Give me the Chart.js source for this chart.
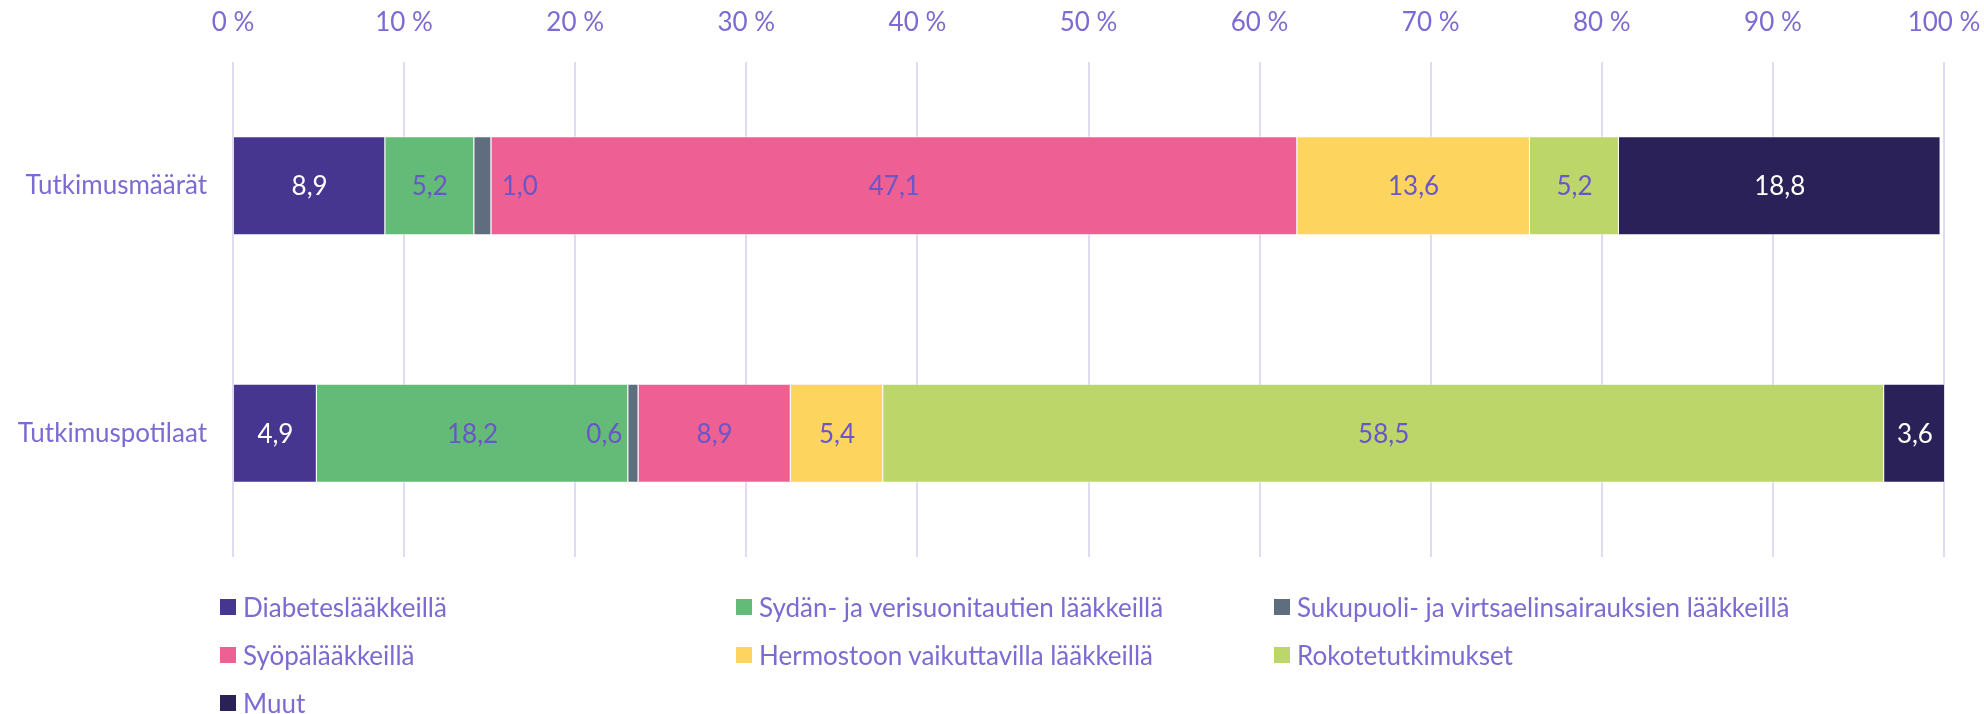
<!DOCTYPE html>
<html>
<head>
<meta charset="utf-8">
<script src="https://cdn.jsdelivr.net/npm/chart.js@4.4.1/dist/chart.umd.min.js"></script>
<style>
  body { margin: 0; background: #fff; }
  #wrap { position: relative; width: 1984px; height: 714px; }
  .lg { position: absolute; display: flex; align-items: center; height: 30px;
        font-family: Lato, sans-serif; font-size: 26px; color: #7b6bd2; white-space: nowrap; }
  .lg span.box { display: inline-block; width: 16px; height: 16px; margin-right: 7px; }
</style>
</head>
<body>
<div id="wrap">
  <canvas id="chart" width="1984" height="714"></canvas>
</div>
<script>
var categories = ['Tutkimusmäärät', 'Tutkimuspotilaat'];

var diabetes  = [8.9, 4.9];
var sydan     = [5.2, 18.2];
var sukupuoli = [1.0, 0.6];
var syopa     = [47.1, 8.9];
var hermosto  = [13.6, 5.4];
var rokote    = [5.2, 58.5];
var muut      = [18.8, 3.6];

var seriesNames = [
  'Diabeteslääkkeillä',
  'Sydän- ja verisuonitautien lääkkeillä',
  'Sukupuoli- ja virtsaelinsairauksien lääkkeillä',
  'Syöpälääkkeillä',
  'Hermostoon vaikuttavilla lääkkeillä',
  'Rokotetutkimukset',
  'Muut'
];
var seriesValues = [diabetes, sydan, sukupuoli, syopa, hermosto, rokote, muut];

var barColors   = ['#47368f', '#63bb77', '#5e6e7e', '#ee6093', '#fdd55e', '#bdd66a', '#2a2158'];
var labelColors = ['#ffffff', '#6a55c9', '#6a55c9', '#6a55c9', '#6a55c9', '#6a55c9', '#ffffff'];

var textColor = '#7b6bd2';
var fontFamily = 'Lato, sans-serif';

// hand-placed labels for the thin segments (dataset index -> [dx per category])
var labelNudge = { 2: [37, -29] };

var segmentLabels = {
  id: 'segmentLabels',
  afterDatasetsDraw: function(chart) {
    var ctx = chart.ctx;
    ctx.save();
    ctx.font = '26px ' + fontFamily;
    ctx.textAlign = 'center';
    ctx.textBaseline = 'middle';
    chart.data.datasets.forEach(function(ds, i) {
      var meta = chart.getDatasetMeta(i);
      meta.data.forEach(function(bar, j) {
        var v = ds.data[j];
        var x = (bar.x + bar.base) / 2;
        if (labelNudge[i]) x += labelNudge[i][j];
        ctx.fillStyle = labelColors[i];
        ctx.fillText(v.toFixed(1).replace('.', ','), x, bar.y + 1);
      });
    });
    ctx.restore();
  }
};

var datasets = seriesNames.map(function(name, i) {
  return {
    label: name,
    data: seriesValues[i],
    backgroundColor: barColors[i],
    borderColor: 'rgba(255,255,255,0.55)',
    borderWidth: 1,
    categoryPercentage: 0.4,
    barPercentage: 1.0
  };
});

var ctx = document.getElementById('chart');
var myChart = new Chart(ctx, {
  type: 'bar',
  data: { labels: categories, datasets: datasets },
  options: {
    indexAxis: 'y',
    responsive: false,
    animation: false,
    layout: { padding: { left: 0, right: 40, top: 0, bottom: 157 } },
    plugins: {
      legend: { display: false },
      tooltip: { enabled: false }
    },
    scales: {
      x: {
        position: 'top',
        stacked: true,
        min: 0,
        max: 100,
        afterFit: function(scale) {
          scale.height = 62;
          scale.paddingLeft = 0;
          scale.paddingRight = 0;
        },
        ticks: {
          stepSize: 10,
          padding: 24,
          color: textColor,
          font: { family: fontFamily, size: 26 },
          callback: function(v) { return v + ' %'; }
        },
        grid: { color: '#dedbf3', lineWidth: 2, drawTicks: false },
        border: { display: false }
      },
      y: {
        stacked: true,
        afterFit: function(scale) { scale.width = 233; },
        ticks: {
          padding: 26,
          color: textColor,
          font: { family: fontFamily, size: 26 }
        },
        grid: { display: false, drawTicks: false },
        border: { display: false }
      }
    }
  },
  plugins: [segmentLabels]
});

// legend laid out in three columns like the original
var legendCols = [220, 736, 1274];
var legendRows = [607, 655, 703];
var wrap = document.getElementById('wrap');
seriesNames.forEach(function(name, i) {
  var item = document.createElement('div');
  item.className = 'lg';
  item.style.left = legendCols[i % 3] + 'px';
  item.style.top = (legendRows[Math.floor(i / 3)] - 15) + 'px';
  var box = document.createElement('span');
  box.className = 'box';
  box.style.background = barColors[i];
  item.appendChild(box);
  item.appendChild(document.createTextNode(name));
  wrap.appendChild(item);
});
</script>
</body>
</html>
